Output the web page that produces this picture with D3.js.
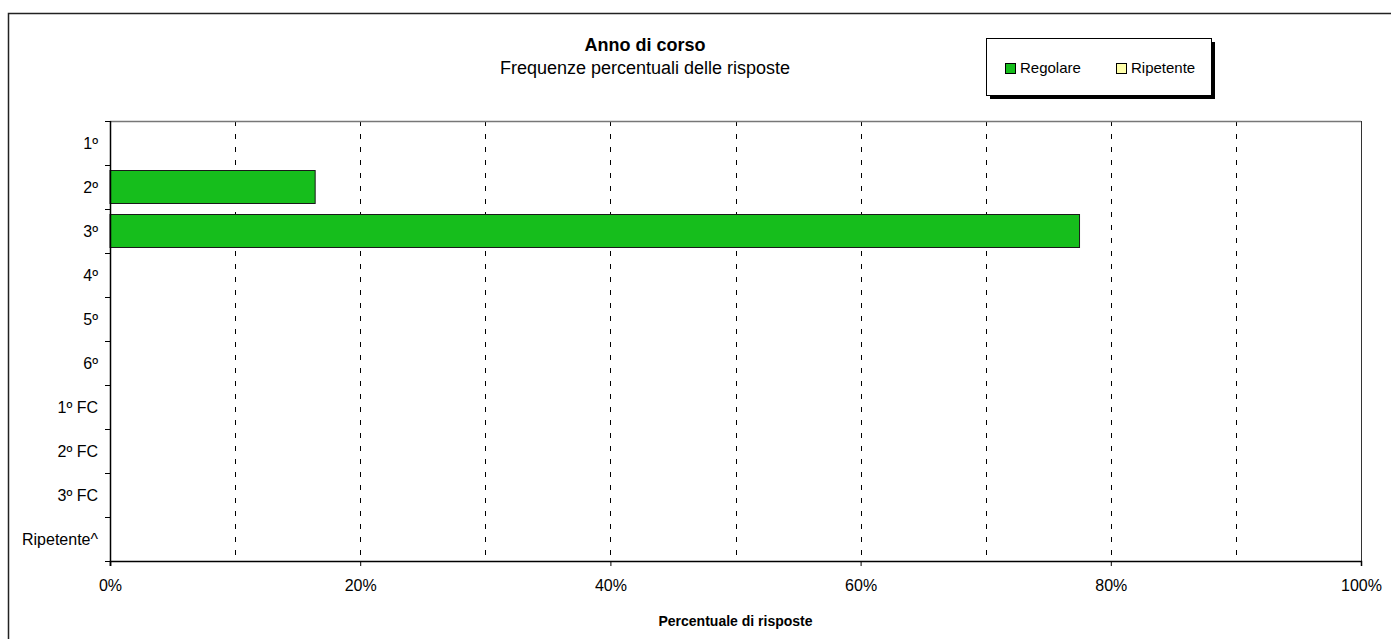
<!DOCTYPE html>
<html>
<head>
<meta charset="utf-8">
<script src="https://cdn.jsdelivr.net/npm/d3@7"></script>
<style>
  body { margin: 0; background: #fff; }
  text { font-family: "Liberation Sans", Arial, sans-serif; fill: #000; }
</style>
</head>
<body>
<div id="chart"></div>
<script>
// categories and values (percent of responses)
const categories = ["1º", "2º", "3º", "4º", "5º", "6º", "1º FC", "2º FC", "3º FC", "Ripetente^"];
const regolare = [0, 16.4, 77.5, 0, 0, 0, 0, 0, 0, 0];
const ripetente = [0, 0, 0, 0, 0, 0, 0, 0, 0, 0];
const seriesNames = ["Regolare", "Ripetente"];
const seriesColors = ["#16be1c", "#ffffaa"];
const xTicks = [0, 20, 40, 60, 80, 100];
const gridTicks = [10, 20, 30, 40, 50, 60, 70, 80, 90];

const W = 1391, H = 639;
const margin = {top: 121, right: 30, bottom: 78, left: 110};
const width = W - margin.left - margin.right;
const height = H - margin.top - margin.bottom;

const svg = d3.select("#chart")
  .append("svg")
    .attr("width", W)
    .attr("height", H);

// outer frame (runs off the right/bottom edge)
svg.append("rect")
  .attr("x", 8.5).attr("y", 13.5)
  .attr("width", W + 10).attr("height", H + 10)
  .attr("fill", "none")
  .attr("stroke", "#222")
  .attr("stroke-width", 1.5);

const g = svg.append("g")
  .attr("transform", "translate(" + margin.left + "," + margin.top + ")");

const x = d3.scaleLinear().domain([0, 100]).range([0, width]);
const y = d3.scaleBand().domain(categories).range([0, height]).paddingInner(0.25).paddingOuter(0.125);
const yTick = d3.scaleLinear().domain([0, categories.length]).range([0, height]);

// dashed grid
g.append("g")
  .selectAll("line")
  .data(gridTicks)
  .enter()
  .append("line")
    .attr("x1", d => Math.round(x(d)) + 0.5)
    .attr("x2", d => Math.round(x(d)) + 0.5)
    .attr("y1", 0).attr("y2", height)
    .attr("stroke", "#000")
    .attr("stroke-dasharray", "5,8");

// top and right border of plot
g.append("line")
  .attr("x1", 0).attr("x2", width).attr("y1", 0.5).attr("y2", 0.5)
  .attr("stroke", "#777").attr("stroke-width", 1.5);
g.append("line")
  .attr("x1", width + 0.5).attr("x2", width + 0.5).attr("y1", 0).attr("y2", height)
  .attr("stroke", "#333").attr("stroke-width", 1);

// bars
g.append("g")
  .selectAll("rect")
  .data(categories.map((c, i) => ({cat: c, v: regolare[i]})).filter(d => d.v > 0))
  .enter()
  .append("rect")
    .attr("x", x(0))
    .attr("y", d => y(d.cat))
    .attr("width", d => x(d.v) - x(0))
    .attr("height", y.bandwidth())
    .attr("fill", seriesColors[0])
    .attr("stroke", "#1a1a1a")
    .attr("stroke-width", 1);

// x axis
const xAxis = g.append("g")
  .attr("transform", "translate(0," + height + ")")
  .call(d3.axisBottom(x).tickValues(xTicks).tickFormat(d => d + "%").tickSize(5).tickPadding(14));
xAxis.select(".domain").attr("stroke", "#000").attr("stroke-width", 1.5);
xAxis.selectAll("text").attr("font-size", 16).attr("font-family", "Liberation Sans, Arial, sans-serif");

// y axis: ticks between categories, labels at centres
g.append("line")
  .attr("x1", 0.5).attr("x2", 0.5).attr("y1", 0).attr("y2", height + 5)
  .attr("stroke", "#000").attr("stroke-width", 1.5);
g.append("g")
  .selectAll("line")
  .data(d3.range(categories.length + 1))
  .enter()
  .append("line")
    .attr("x1", -5).attr("x2", 0)
    .attr("y1", d => Math.round(yTick(d)) + 0.5)
    .attr("y2", d => Math.round(yTick(d)) + 0.5)
    .attr("stroke", "#000");
g.append("g")
  .selectAll("text")
  .data(categories)
  .enter()
  .append("text")
    .attr("x", -12)
    .attr("y", d => y(d) + y.bandwidth() / 2)
    .attr("dy", "0.35em")
    .attr("text-anchor", "end")
    .attr("font-size", 16)
    .text(d => d);

// titles
svg.append("text")
  .attr("x", 645).attr("y", 51)
  .attr("text-anchor", "middle")
  .attr("font-size", 18).attr("font-weight", "bold")
  .text("Anno di corso");
svg.append("text")
  .attr("x", 645).attr("y", 74)
  .attr("text-anchor", "middle")
  .attr("font-size", 18)
  .text("Frequenze percentuali delle risposte");
svg.append("text")
  .attr("x", margin.left + width / 2).attr("y", 626)
  .attr("text-anchor", "middle")
  .attr("font-size", 14).attr("font-weight", "bold")
  .text("Percentuale di risposte");

// legend with shadow
const lg = svg.append("g").attr("transform", "translate(986,38)");
lg.append("rect").attr("x", 4).attr("y", 4).attr("width", 225).attr("height", 57).attr("fill", "#000");
lg.append("rect").attr("x", 0.5).attr("y", 0.5).attr("width", 225).attr("height", 57)
  .attr("fill", "#fff").attr("stroke", "#000");
const items = lg.selectAll("g.item")
  .data(seriesNames)
  .enter()
  .append("g")
    .attr("class", "item")
    .attr("transform", (d, i) => "translate(" + (19 + i * 111) + ",25)");
items.append("rect")
  .attr("x", 0.5).attr("y", 0.5).attr("width", 10).attr("height", 10)
  .attr("fill", (d, i) => seriesColors[i])
  .attr("stroke", "#000");
items.append("text")
  .attr("x", 15).attr("y", 10)
  .attr("font-size", 15)
  .text(d => d);
</script>
</body>
</html>
